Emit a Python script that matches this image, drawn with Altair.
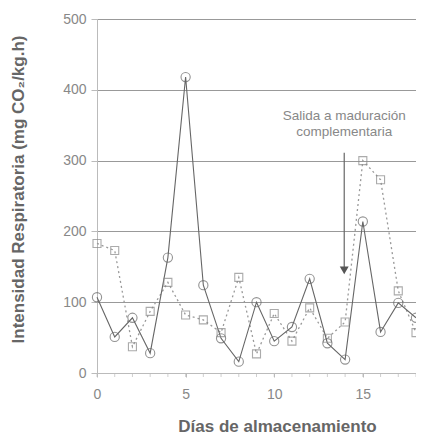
import altair as alt
import pandas as pd

days = list(range(0, 19))
circ = [107, 51, 78, 28, 163, 418, 124, 49, 16, 100, 45, 65, 133, 42, 19, 214, 58, 99, 78]
squa = [183, 173, 37, 87, 128, 82, 75, 57, 135, 27, 84, 45, 92, 49, 72, 300, 273, 116, 57]
x_labels = [0, 5, 10, 15]
y_labels = [0, 100, 200, 300, 400, 500]

arrow_day = [13.95]
arrow_top = [311]
arrow_bottom = [145]
note_lines = ["Salida a maduración", "complementaria"]
note_y = [363, 340]
note_day = [13.95, 13.95]

df = pd.DataFrame({"dia": days, "circ": circ, "squa": squa})

xs = alt.Scale(domain=[0, 18], nice=False, zero=False)
ys = alt.Scale(domain=[0, 500], nice=False)

xaxis = alt.Axis(values=x_labels, labelOverlap=False,
                 title="Días de almacenamiento", grid=False, tickSize=4,
                 labelFontSize=14, labelColor="#888", labelFont="Liberation Sans",
                 titleFont="Liberation Sans", titleFontSize=17, titleFontWeight="bold",
                 titleColor="#666", labelPadding=10, labelFlush=False,
                 titleX=180, titleY=62, titleBaseline="bottom", titleAnchor="middle", titleAlign="center",
                 domainColor="#bbb", tickColor="#bbb")
yaxis = alt.Axis(values=y_labels, title="Intensidad Respiratoria (mg CO₂/kg.h)",
                 grid=True, gridColor="#999", tickSize=6, labelPadding=5,
                 labelFontSize=14, labelColor="#888", labelFont="Liberation Sans",
                 titleFont="Liberation Sans", titleFontSize=17, titleFontWeight="bold",
                 titleColor="#666",
                 titleX=-70, titleY=170, titleBaseline="bottom", titleAngle=270, titleAlign="center",
                 domainColor="#bbb", tickColor="#bbb")

base = alt.Chart(df)

sq_line = base.mark_line(color="#999", strokeDash=[2, 3], strokeWidth=1.3).encode(
    x=alt.X("dia:Q", scale=xs, axis=xaxis), y=alt.Y("squa:Q", scale=ys, axis=yaxis))
sq_pts = base.mark_point(shape="square", filled=False, color="#888", size=64, strokeWidth=1.1).encode(
    x=alt.X("dia:Q", scale=xs), y=alt.Y("squa:Q", scale=ys))
c_line = base.mark_line(color="#666", strokeWidth=1.1).encode(
    x=alt.X("dia:Q", scale=xs), y=alt.Y("circ:Q", scale=ys))
c_pts = base.mark_point(shape="circle", filled=False, color="#666", size=85, strokeWidth=1.1).encode(
    x=alt.X("dia:Q", scale=xs), y=alt.Y("circ:Q", scale=ys))
minor = base.mark_tick(orient="vertical", size=4, color="#bbb", thickness=1).encode(
    x=alt.X("dia:Q", scale=xs), y=alt.value(356))

adf = pd.DataFrame({"d": arrow_day, "top": arrow_top, "bot": arrow_bottom})
arrow = alt.Chart(adf).mark_rule(color="#666", strokeWidth=1.2).encode(
    x=alt.X("d:Q", scale=xs), y=alt.Y("top:Q", scale=ys), y2="bot:Q")
head = alt.Chart(adf).mark_point(shape="triangle-down", filled=True, color="#555", size=80, opacity=1).encode(
    x=alt.X("d:Q", scale=xs), y=alt.Y("bot:Q", scale=ys))

ndf = pd.DataFrame({"t": note_lines, "y": note_y, "d": note_day})
note = alt.Chart(ndf).mark_text(fontSize=13.5, color="#888", font="Liberation Sans").encode(
    x=alt.X("d:Q", scale=xs), y=alt.Y("y:Q", scale=ys), text="t:N")

chart = alt.layer(sq_line, c_line, sq_pts, c_pts, minor, arrow, head, note).properties(
    width=319, height=354,
    autosize=alt.AutoSizeParams(type="none"),
    padding={"left": 89, "top": 11, "right": 0, "bottom": 62},
).configure_view(stroke="#ccc", strokeWidth=1).configure(background="white")

chart.save("out.html", embed_options={"renderer": "svg", "actions": False})
